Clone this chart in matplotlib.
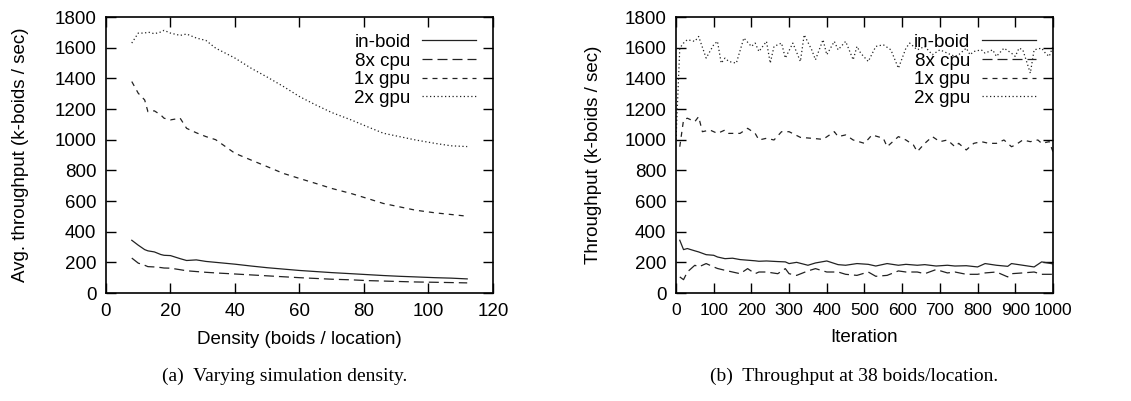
import matplotlib
matplotlib.use("Agg")
import matplotlib.pyplot as plt

plt.rcParams["font.family"] = ["Liberation Sans", "DejaVu Sans"]

# (a) throughput vs density
density = [8, 10, 12, 13, 15, 17, 18, 20, 23, 25, 28, 31, 34, 40, 45, 50, 55,
           60, 65, 70, 76, 81, 86, 91, 96, 102, 107, 112]
a_inboid = [344, 312, 283, 275, 268, 251, 246, 244, 224, 212, 216, 206, 200,
            188, 176, 165, 156, 147, 140, 133, 126, 120, 114, 109, 105, 100, 97, 92]
a_cpu8 = [228, 195, 181, 172, 170, 166, 163, 162, 152, 145, 140, 135, 131,
          124, 118, 112, 106, 100, 95, 90, 86, 81, 78, 75, 72, 70, 68, 66]
a_gpu1 = [1379, 1303, 1259, 1183, 1188, 1161, 1140, 1129, 1140, 1074, 1045, 1020,
          1000, 911, 867, 824, 780, 747, 715, 682, 649, 617, 584, 562, 540, 523, 512, 501]
a_gpu2 = [1630, 1695, 1695, 1702, 1691, 1702, 1713, 1695, 1680, 1689, 1663, 1647,
          1597, 1532, 1466, 1408, 1347, 1281, 1227, 1177, 1129, 1085, 1042, 1020,
          998, 976, 960, 955]

# (b) throughput vs iteration at 38 boids/location
it_gpu2 = [0, 10, 20, 30, 50, 60, 80, 100, 110, 120, 130, 140, 160, 180, 200, 210,
           220, 240, 250, 260, 280, 290, 310, 330, 340, 360, 370, 390, 400, 420,
           430, 450, 470, 480, 490, 510, 530, 550, 570, 590, 610, 620, 640, 650,
           660, 680, 700, 720, 740, 750, 770, 780, 790, 810, 820, 840, 850, 870,
           890, 900, 910, 920, 940, 950, 970, 980, 990, 1000]
b_gpu2 = [1000, 1597, 1630, 1652, 1641, 1673, 1532, 1619, 1641, 1499, 1532, 1510,
          1499, 1663, 1608, 1630, 1575, 1641, 1499, 1608, 1630, 1532, 1630, 1510,
          1684, 1586, 1521, 1652, 1554, 1641, 1586, 1641, 1521, 1608, 1564, 1510,
          1608, 1619, 1586, 1466, 1597, 1630, 1586, 1597, 1608, 1554, 1586, 1564,
          1543, 1554, 1597, 1554, 1575, 1586, 1564, 1586, 1543, 1597, 1564, 1543,
          1597, 1586, 1434, 1586, 1597, 1564, 1543, 1608]
it_gpu1 = [10, 20, 30, 50, 60, 70, 90, 110, 130, 140, 170, 190, 210, 220, 240,
           260, 280, 300, 330, 360, 390, 420, 430, 450, 470, 500, 520, 550, 560,
           590, 610, 630, 640, 660, 680, 700, 720, 740, 750, 770, 790, 810, 830,
           850, 870, 890, 900, 920, 940, 960, 970, 990, 1000]
b_gpu1 = [954, 1129, 1140, 1118, 1150, 1052, 1063, 1041, 1063, 1041, 1041, 1074,
          1041, 998, 1009, 998, 1052, 1052, 1015, 1009, 1002, 1052, 1020, 1031, 998,
          976, 1031, 1009, 954, 1020, 998, 965, 922, 976, 1020, 987, 998, 954, 976,
          933, 976, 987, 976, 976, 998, 954, 965, 998, 987, 998, 976, 987, 922]
it_lo = [10, 20, 30, 50, 60, 80, 100, 110, 130, 150, 170, 190, 210, 220, 240, 270,
         290, 300, 320, 350, 370, 400, 430, 450, 480, 510, 530, 560, 590, 610, 640,
         660, 690, 720, 740, 770, 800, 820, 850, 880, 890, 920, 950, 970, 1000]
b_inboid = [344, 283, 290, 275, 268, 250, 246, 235, 224, 227, 218, 214, 210, 207,
            209, 205, 203, 192, 200, 181, 196, 209, 185, 181, 192, 187, 176, 192,
            181, 187, 181, 185, 176, 181, 176, 178, 170, 192, 181, 174, 192, 181,
            170, 203, 190]
b_cpu8 = [105, 87, 137, 181, 170, 192, 170, 160, 148, 137, 126, 159, 126, 137,
          137, 126, 159, 126, 115, 144, 159, 137, 137, 122, 115, 137, 109, 115,
          144, 137, 137, 126, 153, 131, 137, 122, 122, 131, 137, 105, 126, 131,
          137, 122, 122]

labels = ["in-boid", "8x cpu", "1x gpu", "2x gpu"]
styles = [dict(ls="-"), dict(ls=(0, (8, 4))), dict(ls=(0, (4, 4))), dict(ls=(0, (1, 2)))]
lw = 0.9
col = "#222222"
fs = 13.5

fig = plt.figure(figsize=(11.31, 4.01), dpi=100)
ax1 = fig.add_axes([0.0937, 0.2693, 0.3422, 0.6883])
ax2 = fig.add_axes([0.5977, 0.2693, 0.3333, 0.6883])

for y, lab, st in zip([a_inboid, a_cpu8, a_gpu1, a_gpu2], labels, styles):
    ax1.plot(density, y, color=col, lw=lw, label=lab, **st)

ax2.plot(it_lo, b_inboid, color=col, lw=lw, label=labels[0], **styles[0])
ax2.plot(it_lo, b_cpu8, color=col, lw=lw, label=labels[1], **styles[1])
ax2.plot(it_gpu1, b_gpu1, color=col, lw=lw, label=labels[2], **styles[2])
ax2.plot(it_gpu2, b_gpu2, color=col, lw=lw, label=labels[3], **styles[3])

ax1.set_xlim(0, 120)
ax1.set_xticks(range(0, 121, 20))
ax2.set_xlim(0, 1000)
ax2.set_xticks(range(0, 1001, 100))

for ax in (ax1, ax2):
    ax.set_ylim(0, 1800)
    ax.set_yticks(range(0, 1801, 200))
    ax.tick_params(direction="in", top=True, right=True, length=7, width=1,
                   labelsize=fs, pad=7)
    for s in ax.spines.values():
        s.set_linewidth(1.2)
    ax.legend(loc="upper right", frameon=False, markerfirst=False, fontsize=fs,
              handlelength=2.9, labelspacing=0.08, borderaxespad=0.5,
              handletextpad=0.6)

ax2.tick_params(axis="x", labelsize=12.5)

ax1.set_xlabel("Density (boids / location)", fontsize=fs, labelpad=8)
ax1.set_ylabel("Avg. throughput (k-boids / sec)", fontsize=fs)
ax2.set_xlabel("Iteration", fontsize=fs, labelpad=8)
ax2.set_ylabel("Throughput (k-boids / sec)", fontsize=fs)
ax1.yaxis.set_label_coords(-0.2, 0.5)
ax2.yaxis.set_label_coords(-0.195, 0.5)

fig.text(0.252, 0.05, "(a)  Varying simulation density.", ha="center",
         fontsize=14, family="Liberation Serif")
fig.text(0.755, 0.05, "(b)  Throughput at 38 boids/location.", ha="center",
         fontsize=14, family="Liberation Serif")

fig.savefig("out.png", dpi=100)
